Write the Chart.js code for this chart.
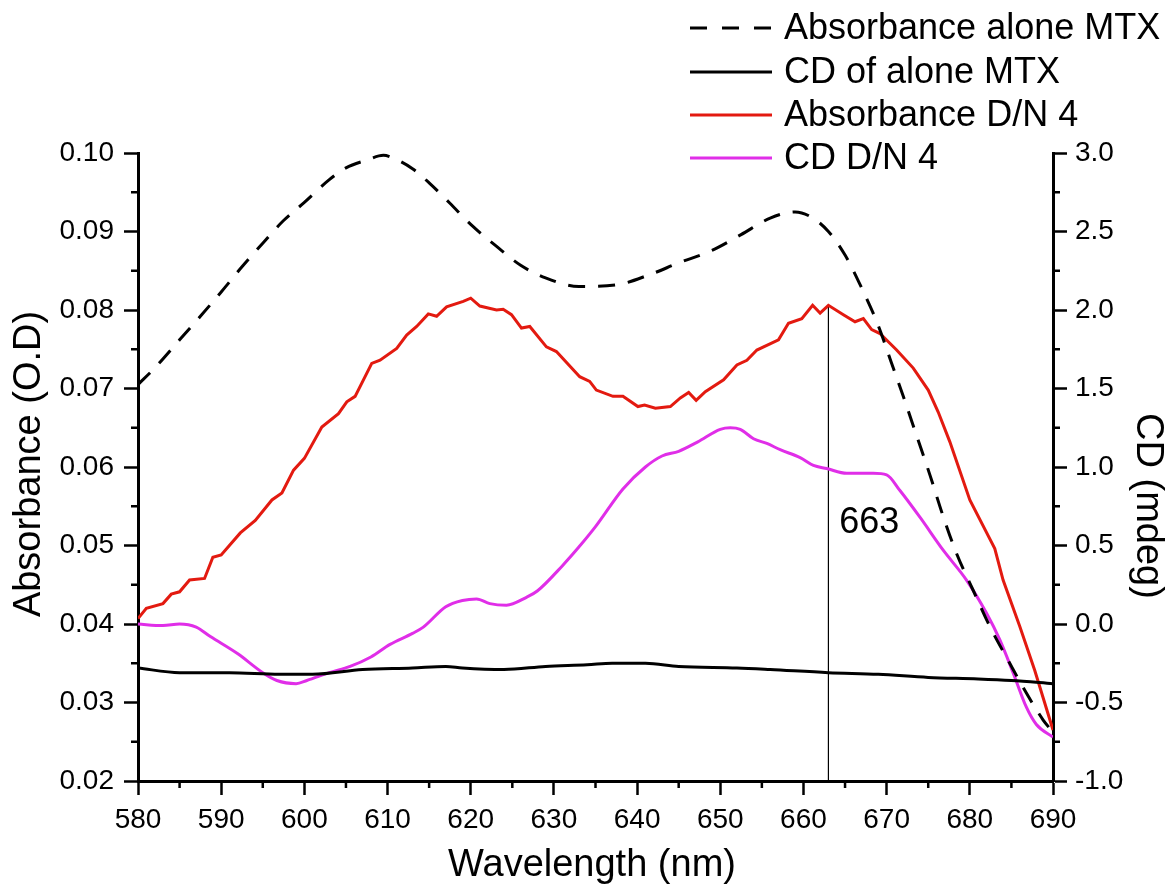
<!DOCTYPE html>
<html><head><meta charset="utf-8">
<script src="https://cdn.jsdelivr.net/npm/chart.js@4.4.1/dist/chart.umd.min.js"></script>
<style>html,body{margin:0;padding:0;background:#fff;}#wrap{width:1168px;height:892px;}</style>
</head><body><div id="wrap"><canvas id="c" width="1168" height="892"></canvas></div>
<script>
// ---- data ----
const seriesLabels = ['Absorbance alone MTX', 'CD of alone MTX', 'Absorbance D/N 4', 'CD D/N 4'];

const absMTX_wl = [580,582,585,587.5,590,592.5,595,597.5,600,603,605,607.5,609.5,611,613,615,617.5,620,623,626,629,633,637.5,641.5,645,649,652.5,656,659,661,663,665,667,669,670.5,672,673.6,675.2,676.8,678.4,680.4,682.4,684.8,686.8,688.8,690];
const absMTX = [0.0705,0.0726,0.0762,0.0792,0.0823,0.0855,0.0885,0.0914,0.0937,0.0966,0.0981,0.0991,0.0997,0.0992,0.0980,0.0962,0.0936,0.0909,0.0882,0.0857,0.0841,0.0830,0.0832,0.0845,0.0860,0.0876,0.0896,0.0917,0.0925,0.0918,0.0900,0.0870,0.0828,0.0780,0.0735,0.0690,0.0640,0.0590,0.0537,0.0490,0.0443,0.0397,0.0350,0.0312,0.0278,0.0262];

const cdMTX_wl = [580,585,591,597,601,607,613,617,619,624,629,634,637,641,645,652,656,663,669,675,681,685,690];
const cdMTX = [-0.28,-0.31,-0.31,-0.32,-0.32,-0.29,-0.28,-0.27,-0.28,-0.29,-0.27,-0.26,-0.25,-0.25,-0.27,-0.28,-0.29,-0.31,-0.32,-0.34,-0.35,-0.36,-0.38];

const absDN4_wl = [580,581,583,584,585,586.2,588,589,590,592.3,594.1,596.1,597.3,598.7,600,602.1,604.1,605.1,606.1,608.1,609.1,611.1,612.3,613.5,614.9,615.9,617.1,619.1,620,621.1,623.1,623.9,624.9,626.1,627.1,629.1,630.3,633.1,634.3,635.1,637.1,638.3,640.1,640.9,642.2,644,645.2,646.2,647.1,648.2,650.4,652,653.2,654.4,657,658.2,659.8,661.1,662,663,664.8,666.2,667.2,668.2,669.2,671.2,673.2,675,676.2,677.6,680,683,684,686,687.8,690];
const absDN4 = [0.0407,0.0420,0.0426,0.0438,0.0441,0.0456,0.0458,0.0485,0.0488,0.0516,0.0532,0.0558,0.0567,0.0596,0.0611,0.0651,0.0668,0.0683,0.0690,0.0732,0.0736,0.0751,0.0768,0.0779,0.0795,0.0792,0.0804,0.0811,0.0815,0.0805,0.0800,0.0801,0.0794,0.0777,0.0779,0.0753,0.0747,0.0715,0.0709,0.0698,0.0690,0.0690,0.0677,0.0679,0.0675,0.0677,0.0688,0.0695,0.0685,0.0696,0.0711,0.0730,0.0736,0.0749,0.0762,0.0783,0.0789,0.0806,0.0796,0.0806,0.0794,0.0785,0.0789,0.0775,0.0770,0.0749,0.0726,0.0698,0.0670,0.0632,0.0558,0.0496,0.0456,0.0397,0.0341,0.0265];

const cdDN4_wl = [580,583,585,587,588.7,592,595,596.7,599,600.3,603,605.5,608,610.3,613,614.3,617,619,620.7,622.3,624.3,626.7,628,631,633,635,638.3,641,643,645,647.3,650,651.2,652.4,654,655.6,657.2,659.6,661.2,662.8,665.2,667.2,668.4,670,671.6,674,676.8,679.6,682,683.6,685.2,686.8,688,690];
const cdDN4 = [0.00,-0.01,0.00,-0.02,-0.08,-0.19,-0.31,-0.36,-0.38,-0.36,-0.31,-0.27,-0.21,-0.13,-0.06,-0.02,0.11,0.15,0.16,0.13,0.12,0.17,0.21,0.37,0.49,0.62,0.86,1.00,1.07,1.10,1.16,1.24,1.25,1.24,1.18,1.15,1.11,1.06,1.01,0.99,0.96,0.96,0.96,0.95,0.85,0.68,0.47,0.28,0.07,-0.10,-0.31,-0.53,-0.64,-0.72];

const markerWl = 663;
const markerTop = 0.0806;
const markerLabel = '663';
const markerLabelPos = [664.3, 0.0529];

const xTicks = [580, 690, 10];      // min, max, step
const yLeftTicks = [0.02, 0.10, 0.01];
const yRightTicks = [-1.0, 3.0, 0.5];
const axisTitles = ['Wavelength (nm)', 'Absorbance (O.D)', 'CD (mdeg)'];

// ---- chart ----
const FONT = "'Liberation Sans', Arial, sans-serif";
Chart.defaults.font.family = FONT;
Chart.defaults.color = '#000';

const zip = (xs, ys) => xs.map((x, i) => ({x: x, y: ys[i]}));
const colors = ['#000000', '#000000', '#e31a10', '#e02ee8'];
const dashes = [[17, 13], [], [], []];

const extras = {
  id: 'extras',
  afterDraw(chart) {
    const ctx = chart.ctx;
    ctx.save();
    ctx.strokeStyle = '#000';
    ctx.lineWidth = 2.5;
    const xs = chart.scales.x, yl = chart.scales.y, yr = chart.scales.y2;
    const ca = chart.chartArea;
    ctx.beginPath();
    for (let v = xTicks[0] + xTicks[2] / 2; v < xTicks[1]; v += xTicks[2]) {
      const p = xs.getPixelForValue(v);
      ctx.moveTo(p, ca.bottom); ctx.lineTo(p, ca.bottom + 7);
    }
    for (let v = yLeftTicks[0] + yLeftTicks[2] / 2; v < yLeftTicks[1]; v += yLeftTicks[2]) {
      const p = yl.getPixelForValue(v);
      ctx.moveTo(ca.left, p); ctx.lineTo(ca.left - 7, p);
    }
    for (let v = yRightTicks[0] + yRightTicks[2] / 2; v < yRightTicks[1]; v += yRightTicks[2]) {
      const p = yr.getPixelForValue(v);
      ctx.moveTo(ca.right, p); ctx.lineTo(ca.right + 7, p);
    }
    ctx.stroke();
    ctx.fillStyle = '#000';
    // marker label
    ctx.font = '36px ' + FONT;
    ctx.textAlign = 'left';
    ctx.textBaseline = 'middle';
    ctx.fillText(markerLabel, xs.getPixelForValue(markerLabelPos[0]), yl.getPixelForValue(markerLabelPos[1]));
    // axis titles
    ctx.font = '38px ' + FONT;
    ctx.textAlign = 'center';
    ctx.fillText(axisTitles[0], 592, 866);
    ctx.save();
    ctx.translate(30, 464); ctx.rotate(-Math.PI / 2);
    ctx.fillText(axisTitles[1], 0, 0);
    ctx.restore();
    ctx.save();
    ctx.translate(1147, 506); ctx.rotate(Math.PI / 2);
    ctx.fillText(axisTitles[2], 0, 0);
    ctx.restore();
    // legend
    const x0 = 690, x1 = 772, tx = 784, rows = [28, 72, 115, 158];
    ctx.font = '36px ' + FONT;
    ctx.textAlign = 'left';
    for (let i = 0; i < 4; i++) {
      const ds = chart.data.datasets[i];
      ctx.beginPath();
      ctx.setLineDash(i === 0 ? [17, 15] : []);
      ctx.strokeStyle = ds.borderColor;
      ctx.lineWidth = 3;
      ctx.moveTo(x0, rows[i]); ctx.lineTo(x1, rows[i]);
      ctx.stroke();
      ctx.setLineDash([]);
      ctx.fillText(ds.label, tx, rows[i] + 1);
    }
    ctx.restore();
  }
};

const axisCommon = {
  border: {display: true, color: '#000', width: 3},
  grid: {drawOnChartArea: false, drawTicks: true, tickLength: 14, tickWidth: 2.5, tickColor: '#000'},
};

new Chart(document.getElementById('c'), {
  type: 'line',
  data: {
    datasets: [
      {label: seriesLabels[0], data: zip(absMTX_wl, absMTX), yAxisID: 'y', borderColor: colors[0], borderDash: dashes[0], borderWidth: 3, cubicInterpolationMode: 'monotone'},
      {label: seriesLabels[1], data: zip(cdMTX_wl, cdMTX), yAxisID: 'y2', borderColor: colors[1], borderWidth: 3, cubicInterpolationMode: 'monotone'},
      {label: seriesLabels[2], data: zip(absDN4_wl, absDN4), yAxisID: 'y', borderColor: colors[2], borderWidth: 3, tension: 0},
      {label: seriesLabels[3], data: zip(cdDN4_wl, cdDN4), yAxisID: 'y2', borderColor: colors[3], borderWidth: 3, cubicInterpolationMode: 'monotone'},
      {label: 'marker', data: [{x: markerWl, y: markerTop}, {x: markerWl, y: yLeftTicks[0]}], yAxisID: 'y', borderColor: '#000', borderWidth: 1.2}
    ]
  },
  options: {
    responsive: false,
    animation: false,
    devicePixelRatio: 1,
    elements: {point: {radius: 0}},
    layout: {padding: {top: 153, left: 0, right: 0, bottom: 0}},
    plugins: {legend: {display: false}, tooltip: {enabled: false}},
    scales: {
      x: {
        type: 'linear', min: xTicks[0], max: xTicks[1],
        ...axisCommon,
        ticks: {stepSize: xTicks[2], padding: 8, font: {size: 28}, callback: v => String(v)},
        afterFit: s => { s.height = 111; }
      },
      y: {
        type: 'linear', position: 'left', min: yLeftTicks[0], max: yLeftTicks[1],
        ...axisCommon,
        ticks: {stepSize: yLeftTicks[2], padding: 10, font: {size: 28}, callback: v => Number(v).toFixed(2)},
        afterFit: s => { s.width = 138; }
      },
      y2: {
        type: 'linear', position: 'right', min: yRightTicks[0], max: yRightTicks[1],
        ...axisCommon,
        ticks: {stepSize: yRightTicks[2], padding: 8, font: {size: 28}, callback: v => Number(v).toFixed(1)},
        afterFit: s => { s.width = 115; }
      }
    }
  },
  plugins: [extras]
});
</script>
</body></html>
